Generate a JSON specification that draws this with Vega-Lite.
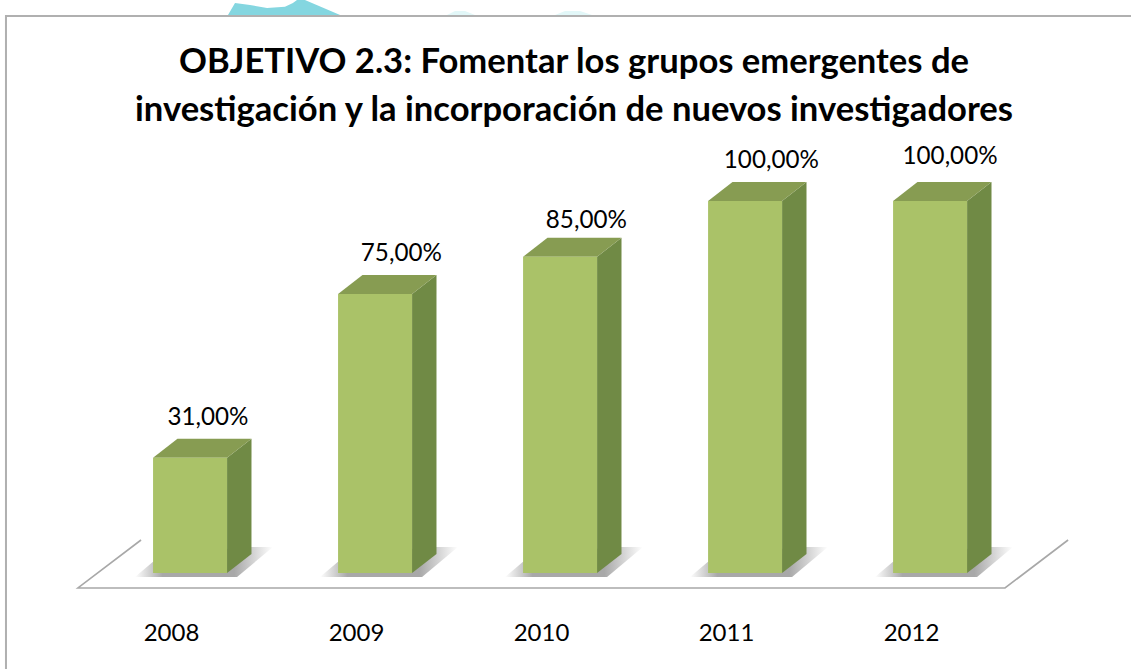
{
"$schema":"https://vega.github.io/schema/vega-lite/v6.json",
"width":1131,"height":669,"autosize":"none","padding":0,"background":"white",
"config":{"view":{"stroke":null},"font":"Lato"},
"title":{"text":["OBJETIVO 2.3: Fomentar los grupos emergentes de","investigación y la incorporación de nuevos investigadores"],"font":"Lato","fontSize":34.6,"fontWeight":"bold","color":"#000000","lineHeight":48,"anchor":"start","align":"center","dx":574,"offset":-163,"baseline":"bottom"},
"datasets":{
"bars":[{"year":2008,"value":31},{"year":2009,"value":75},{"year":2010,"value":85},{"year":2011,"value":100},{"year":2012,"value":100}],
"floor":[{"i":0,"xv":2007.838,"yv":8.87},{"i":1,"xv":2007.497,"yv":-4.03},{"i":2,"xv":2012.508,"yv":-4.03},{"i":3,"xv":2012.849,"yv":8.87}],
"frame":[{"i":0,"xv":2007.108,"yv":-25.8},{"i":1,"xv":2007.108,"yv":149.7},{"i":2,"xv":2013.19,"yv":149.7}],
"teal":[{"xv":2008.308,"yv":150,"yb":150},{"xv":2008.346,"yv":153.2,"yb":150},{"xv":2008.427,"yv":152.7,"yb":150},{"xv":2008.519,"yv":151.9,"yb":150},{"xv":2008.616,"yv":152.2,"yb":150},{"xv":2008.659,"yv":153.2,"yb":150},{"xv":2008.681,"yv":154,"yb":150},{"xv":2008.724,"yv":154,"yb":150},{"xv":2008.914,"yv":150,"yb":150}],
"pale":[{"blob":"a","xv":2009.492,"yv":150,"yb":150},{"blob":"a","xv":2009.535,"yv":151.1,"yb":150},{"blob":"a","xv":2009.589,"yv":151.1,"yb":150},{"blob":"a","xv":2009.643,"yv":150,"yb":150},{"blob":"b","xv":2010.076,"yv":150,"yb":150},{"blob":"b","xv":2010.13,"yv":151.1,"yb":150},{"blob":"b","xv":2010.211,"yv":151.1,"yb":150},{"blob":"b","xv":2010.276,"yv":150,"yb":150}]
},
"layer":[
{"data":{"name":"teal"},"mark":{"type":"area","color":"#84d6e0"},"encoding":{
"x":{"field":"xv","type":"quantitative","title":null,"scale":{"domain":[2007.0757,2013.189],"nice":false,"zero":false},"axis":{"orient":"bottom","values":[2008,2009,2010,2011,2012],"format":"d","domain":false,"ticks":false,"grid":false,"title":null,"labelFont":"Lato","labelFontSize":24,"labelColor":"#000000","labelPadding":0,"labelOverlap":false,"labelFlush":false,"offset":-48}},
"y":{"field":"yv","type":"quantitative","stack":null,"scale":{"domain":[-25.81,154.03],"nice":false,"zero":false},"axis":null},
"y2":{"field":"yb"}}},
{"data":{"name":"pale"},"mark":{"type":"area","color":"#e2f7f8"},"encoding":{
"detail":{"field":"blob"},
"x":{"field":"xv","type":"quantitative"},"y":{"field":"yv","type":"quantitative","stack":null},"y2":{"field":"yb"}}},
{"data":{"name":"frame"},"mark":{"type":"line","color":"#b0b0b0","strokeWidth":2},"encoding":{
"order":{"field":"i"},"x":{"field":"xv","type":"quantitative"},"y":{"field":"yv","type":"quantitative"}}},
{"data":{"name":"floor"},"mark":{"type":"line","color":"#a8a8a8","strokeWidth":1.6},"encoding":{
"order":{"field":"i"},"x":{"field":"xv","type":"quantitative"},"y":{"field":"yv","type":"quantitative"}}},
{"data":{"name":"bars"},"transform":[
{"calculate":"[-0.195,-0.097,0.357,0.551]","as":"dx"},{"calculate":"[-1.08,-1.08,-1.08,7]","as":"lo"},{"calculate":"[-1.08,3,7,7]","as":"hi"},
{"flatten":["dx","lo","hi"]},{"calculate":"datum.year+datum.dx","as":"px"}],
"mark":{"type":"area","fill":{"gradient":"linear","x1":0,"x2":1,"y1":0,"y2":0,"stops":[{"offset":0,"color":"#ffffff"},{"offset":0.2,"color":"#a8a8a8"},{"offset":0.72,"color":"#a8a8a8"},{"offset":1,"color":"#ffffff"}]}},
"encoding":{"detail":{"field":"year"},"x":{"field":"px","type":"quantitative"},"y":{"field":"hi","type":"quantitative","stack":null},"y2":{"field":"lo"}}},
{"data":{"name":"bars"},"transform":[
{"calculate":"[0.303,0.435]","as":"dx"},{"calculate":"[0,5.1]","as":"k"},
{"flatten":["dx","k"]},{"calculate":"datum.year+datum.dx","as":"px"},{"calculate":"datum.value+datum.k","as":"up"}],
"mark":{"type":"area","color":"#708a45"},
"encoding":{"detail":{"field":"year"},"x":{"field":"px","type":"quantitative"},"y":{"field":"up","type":"quantitative","stack":null},"y2":{"field":"k"}}},
{"data":{"name":"bars"},"transform":[
{"calculate":"[-0.097,0.035,0.303,0.435]","as":"dx"},{"calculate":"[0,0,0,5.1]","as":"lo"},{"calculate":"[0,5.1,5.1,5.1]","as":"hi"},
{"flatten":["dx","lo","hi"]},{"calculate":"datum.year+datum.dx","as":"px"},{"calculate":"datum.value+datum.hi","as":"up"},{"calculate":"datum.value+datum.lo","as":"dn"}],
"mark":{"type":"area","color":"#879c52"},
"encoding":{"detail":{"field":"year"},"x":{"field":"px","type":"quantitative"},"y":{"field":"up","type":"quantitative","stack":null},"y2":{"field":"dn"}}},
{"data":{"name":"bars"},"transform":[{"calculate":"datum.year-0.097","as":"x1"},{"calculate":"datum.year+0.303","as":"x2"}],
"mark":{"type":"rect","color":"#aac268"},
"encoding":{
"x":{"field":"x1","type":"quantitative"},
"x2":{"field":"x2"},"y":{"field":"value","type":"quantitative"},"y2":{"datum":0}}},
{"data":{"name":"bars"},"transform":[
{"calculate":"replace(format(datum.value,'.2f'),'.',',')+'%'","as":"label"},
{"calculate":"datum.year+(datum.year==2008?0.2:datum.year==2012?0.211:0.245)","as":"lx"},
{"calculate":"datum.value+(datum.year==2010?9.6:datum.year==2012?11.8:10.75)","as":"ly"}],
"mark":{"type":"text","font":"Lato","fontSize":24.2,"color":"#000000","align":"center","baseline":"middle"},
"encoding":{"x":{"field":"lx","type":"quantitative"},"y":{"field":"ly","type":"quantitative"},"text":{"field":"label"}}}
]
}
